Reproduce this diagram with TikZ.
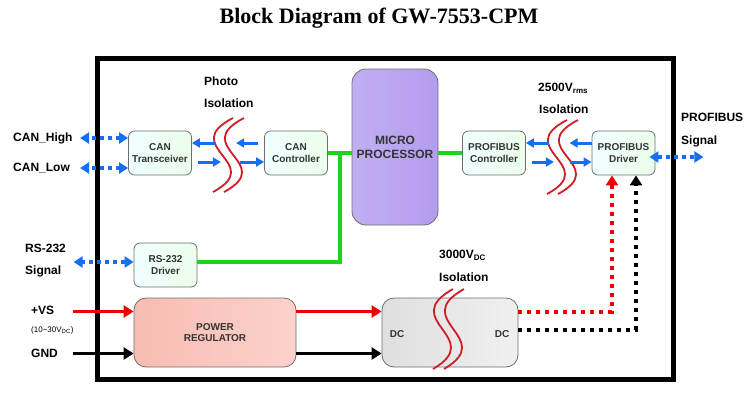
\documentclass[tikz,border=0pt]{standalone}
\usepackage{fontspec}
\setmainfont{Liberation Serif}
\setsansfont{Liberation Sans}
\usetikzlibrary{arrows.meta, calc}

\definecolor{sigblue}{HTML}{1470F0}
\definecolor{busgreen}{HTML}{1ED21E}
\definecolor{isored}{HTML}{D01C24}
\definecolor{pwrred}{HTML}{EE0000}
\definecolor{boxgray}{HTML}{6E6E6E}
\definecolor{boxtext}{HTML}{333333}
\definecolor{cpuA}{HTML}{C2AEF4}
\definecolor{cpuB}{HTML}{EEE8FF}
\definecolor{cpuC}{HTML}{B49CEE}
\definecolor{regA}{HTML}{F8BCB2}
\definecolor{regB}{HTML}{F28A76}
\definecolor{regC}{HTML}{FBD2CB}

\begin{document}
\begin{tikzpicture}[x=1pt, y=-1pt,
  box/.style={draw=boxgray, line width=0.8pt, rounded corners=6pt, align=center,
              minimum width=63pt, minimum height=44pt, inner sep=1pt,
              font=\sffamily\bfseries\fontsize{10}{11.5}\selectfont, text=boxtext,
              left color=cyan!6!white, right color=green!8!white},
  bigbox/.style={box, rounded corners=12pt, minimum height=69pt},
  lbl/.style={font=\sffamily\bfseries\fontsize{12}{14}\selectfont, inner sep=0pt, anchor=base west},
  sig/.style={{Triangle[length=9pt, width=11pt]}-{Triangle[length=9pt, width=11pt]},
              sigblue, line width=3.5pt, dash pattern=on 4pt off 4pt},
  blarr/.style={-{Triangle[length=8pt, width=9pt]}, sigblue, line width=3pt},
  grn/.style={busgreen, line width=4pt},
  pwr/.style={-{Triangle[length=10pt, width=12pt]}, line width=3pt},
  pwrdot/.style={-{Triangle[length=10pt, width=12pt]}, line width=4pt, dash pattern=on 4pt off 5pt},
  isoline/.style={isored, line width=1.8pt},
  isol/.pic={
    \draw[isoline] (11,-37) .. controls (-45,-8) and (45,8) .. (-9,37);
    \draw[isoline] (22,-37) .. controls (-34,-8) and (56,8) .. (2,37);}]
  \useasboundingbox (0,0) rectangle (755,400);

  % title and frame
  \node[font=\rmfamily\bfseries\fontsize{22}{24}\selectfont] (title) at (379,18)
        {Block Diagram of GW-7553-CPM};
  \draw[line width=5pt] (97.5,58.5) rectangle (673.5,379.5);

  % blocks
  \node[box] (tr) at (160,153) {CAN\\Transceiver};
  \node[box] (cc) at (296,153) {CAN\\Controller};
  \node[box, rounded corners=14pt, minimum width=86pt, minimum height=156pt,
        font=\sffamily\bfseries\fontsize{12}{14}\selectfont, text=boxtext,
        shading angle=60, left color=cpuA, middle color=cpuB,
        right color=cpuC] (mp) at (395,147) {MICRO\\PROCESSOR};
  \node[box] (pc) at (494,153) {PROFIBUS\\Controller};
  \node[box] (pd) at (623.5,153) {PROFIBUS\\Driver};
  \node[box] (rs) at (165.5,265) {RS-232\\Driver};
  \node[bigbox, minimum width=162pt, shading angle=-30, left color=regA,
        middle color=regB, right color=regC]
        (pr) at (215,332.5) {POWER\\REGULATOR};
  \node[bigbox, minimum width=136pt, shading angle=-30, left color=gray!25,
        middle color=gray!50, right color=gray!12] (dc) at (450,332.5) {};
  \node[font=\sffamily\bfseries\fontsize{10}{12}\selectfont, text=boxtext] (dcin) at (397,334) {DC};
  \node[font=\sffamily\bfseries\fontsize{10}{12}\selectfont, text=boxtext] (dcout) at (502,334) {DC};

  % isolation barriers
  \pic at (222,155) {isol};
  \pic at (556,157) {isol};
  \pic[yscale=1.08] at (442,329) {isol};

  % outside labels
  \node[lbl] (photo) at (204,85.5) {Photo};
  \node[lbl] (photoiso) at (204,107.5) {Isolation};
  \node[lbl] (kv25) at (538,91.5) {2500V\textsubscript{rms}};
  \node[lbl] (kv25iso) at (539,113.5) {Isolation};
  \node[lbl] (kv3) at (439,258.5) {3000V\textsubscript{DC}};
  \node[lbl] (kv3iso) at (439,281.5) {Isolation};
  \node[lbl] (pbus) at (681,121.5) {PROFIBUS};
  \node[lbl] (pbussig) at (681,144.5) {Signal};
  \node[lbl] (canhi) at (13,141.5) {CAN\_High};
  \node[lbl] (canlo) at (13,171.5) {CAN\_Low};
  \node[lbl] (rsname) at (25,252.5) {RS-232};
  \node[lbl] (rssig) at (25,274.5) {Signal};
  \node[lbl] (vs) at (31,314.5) {+VS};
  \node[lbl, font=\sffamily\fontsize{8}{9}\selectfont] (vsrange) at (31,332) {(10\textasciitilde30V\textsubscript{DC})};
  \node[lbl] (gnd) at (31,357.5) {GND};

  % field signals
  \draw[sig] ([yshift=15pt]tr.west) -- ++(-48,0);
  \draw[sig] ([yshift=-15pt]tr.west) -- ++(-48,0);
  \draw[sig] ([yshift=3pt]rs.west) -- ++(-60,0);
  \draw[sig] ([xshift=-6pt,yshift=-4pt]pd.east) -- ++(54,0);

  % across the isolation
  \draw[blarr] ([xshift=-6pt,yshift=10pt]cc.west) -- ++(-22,0);
  \draw[blarr] ([xshift=24pt,yshift=10pt]tr.east) -- ([yshift=10pt]tr.east);
  \draw[blarr] ([xshift=6pt,yshift=-9pt]tr.east) -- ++(23,0);
  \draw[blarr] ([xshift=-24pt,yshift=-9pt]cc.west) -- ([yshift=-9pt]cc.west);
  \draw[blarr] ([yshift=10pt]pd.west) -- ++(-22,0);
  \draw[blarr] ([xshift=23pt,yshift=10pt]pc.east) -- ([yshift=10pt]pc.east);
  \draw[blarr] ([xshift=6pt,yshift=-9pt]pc.east) -- ++(22,0);
  \draw[blarr] ([xshift=-22pt,yshift=-9pt]pd.west) -- ([yshift=-9pt]pd.west);

  % internal bus
  \draw[grn] (cc.east) -- (cc.east -| mp.west);
  \draw[grn] ($(cc.east)!.5!(cc.east -| mp.west)$) |- ([yshift=3pt]rs.east);
  \draw[grn] (mp.east |- pc.west) -- (pc.west);

  % power
  \draw[pwr, pwrred] ([xshift=-61pt,yshift=21pt]pr.west) -- ([yshift=21pt]pr.west);
  \draw[pwr] ([xshift=-61pt,yshift=-21pt]pr.west) -- ([yshift=-21pt]pr.west);
  \draw[pwr, pwrred] ([yshift=21pt]pr.east) -- ([yshift=21pt]dc.west);
  \draw[pwr] ([yshift=-21pt]pr.east) -- ([yshift=-21pt]dc.west);
  \draw[pwrdot, pwrred] ([yshift=21pt]dc.east) -| ([xshift=-11.5pt]pd.south);
  \draw[pwrdot] ([yshift=3pt]dc.east) -| ([xshift=12.5pt]pd.south);
\end{tikzpicture}
\end{document}
